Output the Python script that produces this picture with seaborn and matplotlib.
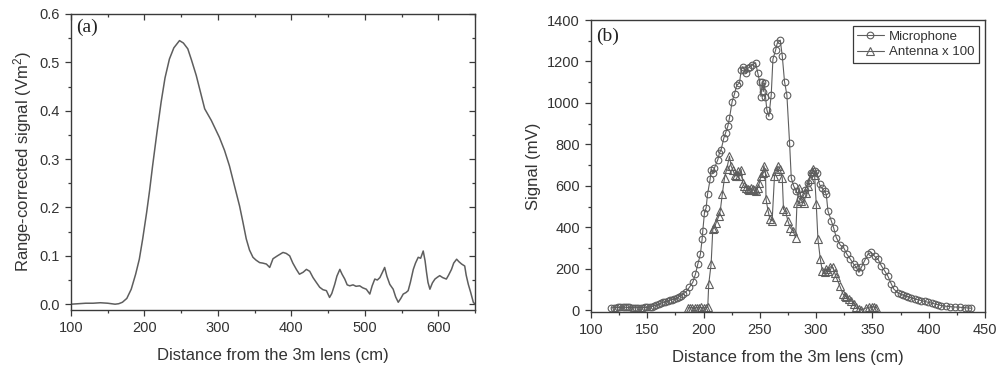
import numpy as np
import pandas as pd
import matplotlib
matplotlib.use("Agg")
import matplotlib.pyplot as plt
from matplotlib.ticker import MultipleLocator, FormatStrFormatter
import seaborn as sns

# ---------------- data ----------------
# Panel (a): range-corrected signal
dist_a = [100, 110, 120, 130, 140, 150, 160, 165, 170, 176, 182, 188, 193, 197.6, 203, 207, 211,
          217, 222.7, 228, 234, 240, 247.7, 253, 259, 264, 270.5, 276, 282, 291, 302, 309,
          315.7, 322, 329.5, 334, 338.6, 343, 347.7, 352, 356.8, 361, 366, 370.5, 375, 381,
          388.6, 393, 397.7, 402, 406.8, 411, 416, 420.5, 425, 429.5, 434, 438.6, 443, 447.7,
          452, 455, 459, 462, 466, 469, 472.7, 476, 479.5, 484, 488, 493, 497, 502, 506.8,
          510, 513.6, 517, 520.5, 524, 527, 530, 534, 538.6, 542, 545.5, 549, 552.3, 556,
          559, 562, 566, 569, 572.7, 576, 579.5, 582, 584, 586, 588.6, 592, 595.5, 599, 602,
          606, 611, 614, 618, 621, 625, 628, 631.8, 636, 638, 640.9, 644, 647.7, 650]
sig_a = [0.000, 0.001, 0.002, 0.002, 0.003, 0.002, 0.000, 0.001, 0.004, 0.012, 0.031, 0.062, 0.093,
         0.135, 0.19, 0.235, 0.285, 0.355, 0.418, 0.468, 0.507, 0.530, 0.545, 0.540, 0.528,
         0.505, 0.473, 0.44, 0.404, 0.38, 0.345, 0.318, 0.286, 0.248, 0.203, 0.17, 0.135,
         0.112, 0.097, 0.091, 0.086, 0.085, 0.083, 0.076, 0.094, 0.100, 0.107, 0.105, 0.100,
         0.085, 0.072, 0.062, 0.066, 0.072, 0.068, 0.055, 0.045, 0.035, 0.030, 0.028, 0.014,
         0.022, 0.041, 0.058, 0.072, 0.062, 0.052, 0.040, 0.038, 0.040, 0.037, 0.038, 0.034,
         0.031, 0.021, 0.038, 0.052, 0.050, 0.055, 0.066, 0.076, 0.058, 0.041, 0.031, 0.015,
         0.004, 0.012, 0.021, 0.024, 0.028, 0.045, 0.072, 0.085, 0.097, 0.095, 0.110, 0.090,
         0.066, 0.045, 0.031, 0.044, 0.052, 0.056, 0.059, 0.055, 0.052, 0.060, 0.072, 0.085,
         0.093, 0.088, 0.083, 0.079, 0.060, 0.041, 0.025, 0.004, 0.000]

# Panel (b): microphone signal (mV)
dist_mic = [118, 120, 122, 124, 126, 128, 130, 132, 134, 136, 138, 140, 142, 144, 146, 148, 150,
            152, 154, 156, 158, 160, 162, 164, 166, 168, 170, 172, 174, 176, 178, 180, 182,
            184.5, 187.4, 190.4, 192.8, 194.9, 197.2, 198.7, 199.3, 200.8, 202.3, 203.5,
            205.8, 206.7, 208.2, 209.7, 212.7, 214.1, 215.6, 218, 219.5, 221.5, 223, 225.4,
            227.5, 229.5, 231.9, 233.4, 234.8, 236.3, 237.8, 239.3, 241.4, 243.2, 246.2,
            248.2, 249.8, 251, 252.1, 253, 254.2, 255, 256.2, 258, 260.1, 261.6, 264, 265.4,
            268.1, 269.9, 271.9, 274, 276.4, 277.9, 280, 282.3, 285.3, 288.2, 290, 292.7,
            295.7, 298.6, 300.5, 303, 305, 307.6, 309, 310.5, 313.5, 315.5, 317.9, 321.5,
            324.4, 327.3, 330.4, 333.3, 335.7, 338, 340.1, 343, 346, 349, 352, 354.9, 357.9,
            360.8, 363.8, 366.8, 368.9, 372.7, 375, 377.2, 379.5, 381.6, 384.5, 387.6, 390.5,
            393.5, 396.5, 399.4, 402.5, 405.3, 408.3, 411.3, 415, 418.7, 423, 427.6, 432,
            435, 438]
sig_mic = [12, 13, 13, 14, 14, 15, 15, 14, 14, 13, 13, 13, 13, 13, 13, 14, 14,
           16, 18, 22, 26, 30, 34, 38, 42, 45, 48, 52, 55, 60, 65, 71, 80,
           90, 111, 135, 175, 223, 271, 343, 383, 471, 495, 559,
           631, 679, 660, 687, 727, 759, 775, 831, 855, 887, 927, 1007,
           1044, 1087, 1095, 1159, 1175, 1159, 1143, 1167, 1175, 1183, 1194,
           1143, 1103, 1031, 1103, 1055, 1095, 1031, 967, 935, 1039, 1211, 1255, 1287,
           1303, 1227, 1103, 1039, 807, 639, 600, 575, 535, 559, 580, 615,
           663, 671, 660, 607, 590, 575, 559, 479, 431, 399, 351, 314,
           303, 271, 247, 223, 207, 183, 207, 239, 271, 279, 260, 247, 215,
           191, 164, 127, 103, 84, 78, 74, 70, 66, 60, 55, 51,
           47, 43, 39, 35, 31, 27, 23, 20, 18, 16, 15, 13,
           12, 10]

# Panel (b): antenna signal x 100 (mV)
dist_ant = [186, 188, 190, 192, 194, 196, 198, 200, 202, 203.7, 204.6, 206.7, 208.2, 209.7, 211,
            213.6, 214.8, 216.6, 218.6, 220.5, 223, 224.5, 225.9, 227.5, 229, 230.4, 231.9,
            233.4, 234.8, 236, 237.8, 239.3, 240.7, 242.2, 243.6, 245, 246.6, 248, 249.6,
            251, 252.5, 253.6, 255, 255.5, 257.3, 259, 260.9, 263, 264.5, 266, 268, 269.9,
            271, 272.8, 274.9, 277, 279.4, 281.8, 283, 284.8, 286.9, 289, 291.4, 292.8,
            294.3, 296.4, 297.5, 298.6, 300.1, 301.6, 303.7, 305.5, 307.6, 309, 310.5,
            312.5, 315, 316.5, 317.9, 320.9, 323.8, 325.3, 326.8, 329, 331.2, 333.5, 335.7,
            338, 340.1, 344.6, 347, 349.5, 351.5, 353.5]
sig_ant = [12, 12, 13, 12, 13, 12, 14, 12, 13, 15, 127, 223, 391, 399, 420,
           455, 479, 559, 639, 680, 743, 695, 679, 655, 647, 671, 647,
           679, 615, 600, 591, 585, 580, 590, 583, 578, 575, 590, 615,
           650, 663, 698, 665, 535, 480, 439, 431, 647, 671, 695, 680, 639,
           487, 479, 431, 399, 383, 351, 519, 591, 527, 519, 567, 600,
           631, 671, 680, 655, 511, 343, 247, 191, 183, 200, 191,
           210, 207, 180, 159, 119, 79, 70, 63, 55, 47, 30, 15,
           8, 2, 12, 15, 18, 16, 12]

# ---------------- style ----------------
sns.set_style("ticks")
plt.rcParams["font.family"] = ["Liberation Sans", "DejaVu Sans"]
plt.rcParams["mathtext.fontset"] = "custom"
plt.rcParams["mathtext.rm"] = "Liberation Sans"
plt.rcParams["mathtext.it"] = "Liberation Sans"

AX = "#3a3a3a"
LN = "#5e5e5e"
TXT = "#333333"

fig = plt.figure(figsize=(10.07, 3.73), dpi=100)
W, H = 1007, 373


def axes_px(l, t, r, b):
    return fig.add_axes([l / W, 1 - b / H, (r - l) / W, (b - t) / H])


ax1 = axes_px(71, 14, 475, 310)
ax2 = axes_px(591, 20, 985, 312)

for ax in (ax1, ax2):
    for s in ax.spines.values():
        s.set_visible(True)
        s.set_color(AX)
        s.set_linewidth(1.0)
    ax.tick_params(which="both", direction="out", colors=AX, labelcolor=TXT,
                   labelsize=10.5, width=0.9, bottom=True, left=True, top=False, right=False)
    ax.tick_params(which="major", length=4.5, pad=3.5)
    ax.tick_params(which="minor", length=2.5)

# ---------------- panel (a) ----------------
df_a = pd.DataFrame({"d": dist_a, "s": sig_a})
sns.lineplot(data=df_a, x="d", y="s", ax=ax1, color=LN, linewidth=1.1,
             estimator=None, sort=False)
ax1.set_xlim(100, 650)
ax1.set_ylim(-0.012, 0.6)
ax1.xaxis.set_major_locator(MultipleLocator(100))
ax1.xaxis.set_minor_locator(MultipleLocator(50))
ax1.yaxis.set_major_locator(MultipleLocator(0.1))
ax1.yaxis.set_minor_locator(MultipleLocator(0.05))
ax1.yaxis.set_major_formatter(FormatStrFormatter("%.1f"))
ax1.set_xlabel("Distance from the 3m lens (cm)", fontsize=12, color=TXT, labelpad=9)
ax1.set_ylabel("Range-corrected signal (Vm$^2$)", fontsize=12, color=TXT, labelpad=4)
ax1.text(0.012, 0.985, "(a)", transform=ax1.transAxes, ha="left", va="top",
         fontsize=14, family=["Liberation Serif", "DejaVu Serif"], color="#222222")

# mirrored inward ticks on top and right
top = ax1.secondary_xaxis("top")
top.xaxis.set_major_locator(MultipleLocator(100))
top.xaxis.set_minor_locator(MultipleLocator(50))
top.tick_params(which="both", direction="in", colors=AX, top=True, labeltop=False,
                bottom=False, width=0.9)
top.tick_params(which="major", length=4)
top.tick_params(which="minor", length=2.5)
top.spines["top"].set_visible(False)
right = ax1.secondary_yaxis("right")
right.yaxis.set_major_locator(MultipleLocator(0.1))
right.yaxis.set_minor_locator(MultipleLocator(0.05))
right.tick_params(which="both", direction="in", colors=AX, right=True, labelright=False,
                  left=False, width=0.9)
right.tick_params(which="major", length=4)
right.tick_params(which="minor", length=2.5)
right.spines["right"].set_visible(False)

# ---------------- panel (b) ----------------
df_mic = pd.DataFrame({"d": dist_mic, "s": sig_mic})
df_ant = pd.DataFrame({"d": dist_ant, "s": sig_ant})
sns.lineplot(data=df_mic, x="d", y="s", ax=ax2, color=LN, linewidth=0.8,
             estimator=None, sort=False, marker="o", markersize=4.8,
             markerfacecolor="none", markeredgecolor=LN, markeredgewidth=0.8,
             label="Microphone")
sns.lineplot(data=df_ant, x="d", y="s", ax=ax2, color=LN, linewidth=0.8,
             estimator=None, sort=False, marker="^", markersize=5.4,
             markerfacecolor="none", markeredgecolor=LN, markeredgewidth=0.8,
             label="Antenna x 100")
ax2.set_xlim(100, 450)
ax2.set_ylim(-8, 1400)
ax2.xaxis.set_major_locator(MultipleLocator(50))
ax2.xaxis.set_minor_locator(MultipleLocator(25))
ax2.yaxis.set_major_locator(MultipleLocator(200))
ax2.yaxis.set_minor_locator(MultipleLocator(100))
ax2.set_xlabel("Distance from the 3m lens (cm)", fontsize=12, color=TXT, labelpad=9)
ax2.set_ylabel("Signal (mV)", fontsize=12, color=TXT, labelpad=4)
ax2.text(0.012, 0.975, "(b)", transform=ax2.transAxes, ha="left", va="top",
         fontsize=14, family=["Liberation Serif", "DejaVu Serif"], color="#222222")
leg = ax2.legend(loc="upper right", frameon=True, fancybox=False, fontsize=9.5,
                 handlelength=2.0, handletextpad=0.4, borderaxespad=0.45,
                 borderpad=0.35, labelspacing=0.25, framealpha=1)
leg.get_frame().set_edgecolor(AX)
leg.get_frame().set_linewidth(0.9)
for t in leg.get_texts():
    t.set_color(TXT)

fig.savefig("out.png", dpi=100, facecolor="white")
